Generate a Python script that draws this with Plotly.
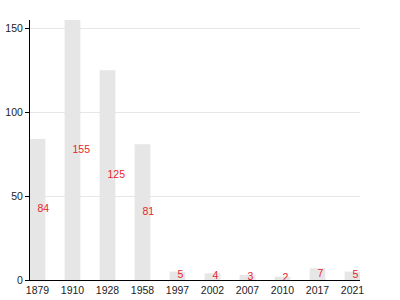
import plotly.graph_objects as go

years = ["1879", "1910", "1928", "1958", "1997", "2002", "2007", "2010", "2017", "2021"]
values = [84, 155, 125, 81, 5, 4, 3, 2, 7, 5]
half_values = [v / 2 for v in values]
labels = [str(v) for v in values]

fig = go.Figure()
fig.add_trace(go.Bar(x=years, y=values, width=0.45, marker=dict(color="#e6e6e6", line=dict(width=0)),
                     hoverinfo="skip"))
fig.add_trace(go.Scatter(x=years, y=half_values, mode="text", text=labels,
                         textposition="middle right",
                         textfont=dict(color="#e8262b", size=10.5, family="Liberation Sans, Arial, sans-serif")))

fig.update_layout(
    width=400, height=300,
    margin=dict(l=30, r=40, t=20, b=20),
    plot_bgcolor="white", paper_bgcolor="white",
    showlegend=False,
    font=dict(family="Liberation Sans, Arial, sans-serif", size=10, color="#222"),
    xaxis=dict(type="category", range=[-0.214, 9.214], showline=True, linecolor="black", linewidth=1,
               ticks="", showgrid=False, tickfont=dict(size=10.5), automargin=False),
    yaxis=dict(range=[0, 155], tickvals=[0, 50, 100, 150], showline=True, linecolor="black", linewidth=1,
               ticks="outside", ticklen=4, tickcolor="black", showgrid=True, gridcolor="#e6e6e6",
               zeroline=False, tickfont=dict(size=10.5), automargin=False),
)
fig.write_html("out.html")
